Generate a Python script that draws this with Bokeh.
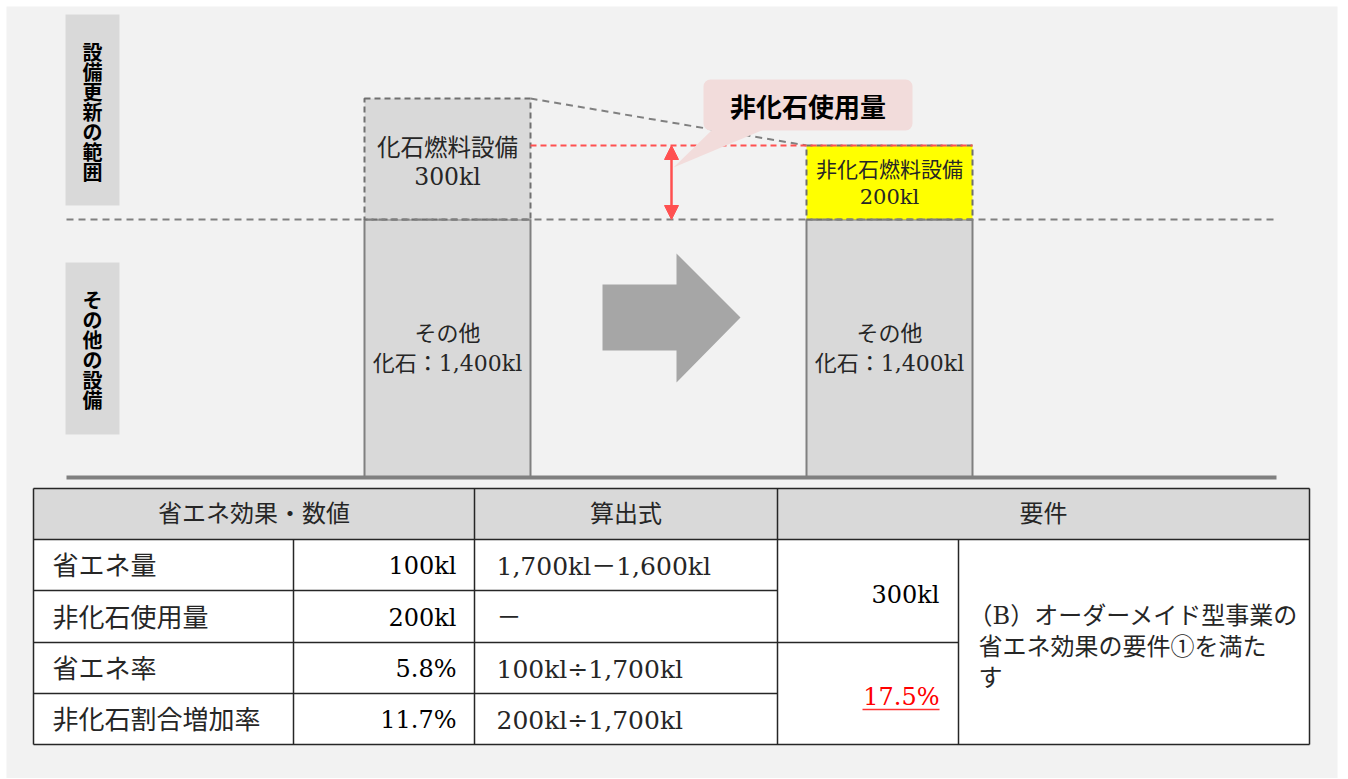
from bokeh.plotting import figure
from bokeh.models import Range1d, BoxAnnotation, Arrow, NormalHead, Label
from bokeh.core.properties import value
from bokeh.embed import file_html
from bokeh.resources import INLINE

# ---------------- data ----------------
side_labels = ["設備更新の範囲", "その他の設備"]
other_label = ["その他", "化石：1,400kl"]
fossil_label = ["化石燃料設備", "300kl"]
nonfossil_label = ["非化石燃料設備", "200kl"]
callout_label = "非化石使用量"
table_header = ["省エネ効果・数値", "算出式", "要件"]
row_labels = ["省エネ量", "非化石使用量", "省エネ率", "非化石割合増加率"]
row_values = ["100kl", "200kl", "5.8%", "11.7%"]
row_formulas = ["1,700kl－1,600kl", "－", "100kl÷1,700kl", "200kl÷1,700kl"]
req_values = ["300kl", "17.5%"]
req_text = ["（B）オーダーメイド型事業の", "省エネ効果の要件①を満た", "す"]

# ---------------- layout (page pixel frame) ----------------
W, H = 1340, 778
GRAY = "#808080"
RED = "#ff5050"
JP = value("Noto Sans CJK JP")
SER = value("DejaVu Serif, Noto Sans CJK JP")

p = figure(width=W, height=H, x_range=Range1d(0, W), y_range=Range1d(H, 0),
           output_backend="svg", toolbar_location=None, min_border=0,
           x_axis_location=None, y_axis_location=None)
p.grid.visible = False
p.outline_line_color = None
p.background_fill_color = "#ffffff"
p.border_fill_color = "#ffffff"

# panel backdrop
p.quad(left=[6], right=[1337], top=[6], bottom=[778], fill_color="#f2f2f2", line_color=None)

BASE_Y, MID_Y = 477, 219
bar_l = [364, 806]
bar_r = [530, 972]
fossil_top, nonfossil_top = 98, 145

# side label boxes with stacked vertical text
side_boxes = [(14, 205), (262, 434)]
p.quad(left=[65, 65], right=[119, 119], top=[b[0] for b in side_boxes],
       bottom=[b[1] for b in side_boxes], fill_color="#d9d9d9", line_color=None)
step = 20
for lab, (t, b) in zip(side_labels, side_boxes):
    n = len(lab)
    c = (t + b) / 2 + 1
    ys = [c - (n - 1) * step / 2 + i * step for i in range(n)]
    p.text(x=[92] * n, y=ys, text=list(lab), text_font=JP, text_font_style="bold",
           text_font_size="20px", text_align="center", text_baseline="middle", text_color="#000000")

# main bars (other fossil use)
p.quad(left=bar_l, right=bar_r, top=[MID_Y] * 2, bottom=[BASE_Y] * 2,
       fill_color="#d9d9d9", line_color=GRAY, line_width=2)
# fossil equipment (before) and non-fossil equipment (after)
p.quad(left=[bar_l[0]], right=[bar_r[0]], top=[fossil_top], bottom=[MID_Y],
       fill_color="#d9d9d9", line_color="#707070", line_width=2, line_dash="6 4")
p.quad(left=[bar_l[1]], right=[bar_r[1]], top=[nonfossil_top], bottom=[MID_Y],
       fill_color="#ffff00", line_color="#707070", line_width=2, line_dash="6 4")

# guide lines
p.line([66, 1276], [MID_Y, MID_Y], line_color=GRAY, line_width=2, line_dash="7 5")
p.line([66, 1276], [BASE_Y, BASE_Y], line_color=GRAY, line_width=4)
p.line([bar_r[0], bar_l[1]], [fossil_top, nonfossil_top], line_color=GRAY, line_width=2, line_dash="7 5")
p.line([bar_r[0], bar_r[1]], [nonfossil_top, nonfossil_top], line_color=RED, line_width=2, line_dash="6 4")

# red double arrow
p.add_layout(Arrow(start=NormalHead(size=14, fill_color=RED, line_color=RED),
                   end=NormalHead(size=14, fill_color=RED, line_color=RED),
                   x_start=671, y_start=MID_Y, x_end=671, y_end=nonfossil_top,
                   line_color=RED, line_width=2.5))

# big transition arrow
ax = [602, 676, 676, 740, 676, 676, 602]
ay = [284, 284, 253, 317, 382, 350, 350]
p.patch(ax, ay, fill_color="#a6a6a6", line_color=None)

# callout
p.patch([713, 766, 673], [128, 128, 167], fill_color="#f2dcdb", line_color=None)
p.add_layout(BoxAnnotation(left=703, right=912, top=79, bottom=130, fill_color="#f2dcdb",
                           fill_alpha=1, line_color=None, border_radius=7))
p.add_layout(Label(x=807.5, y=105, text=callout_label, text_font="Noto Sans CJK JP",
                   text_font_style="bold", text_font_size="26px", text_align="center",
                   text_baseline="middle", text_color="#000000"))

# bar labels
cx = [(l + r) / 2 for l, r in zip(bar_l, bar_r)]
for x in cx:
    p.text(x=[x, x], y=[333, 363], text=other_label, text_font=SER, text_font_size="22px",
           text_align="center", text_baseline="middle", text_color="#262626")
p.text(x=[cx[0], cx[0]], y=[147, 176], text=fossil_label, text_font=SER, text_font_size="23.5px",
       text_align="center", text_baseline="middle", text_color="#262626")
p.text(x=[cx[1], cx[1]], y=[169, 196], text=nonfossil_label, text_font=SER, text_font_size="21px",
       text_align="center", text_baseline="middle", text_color="#262626")

# ---------------- table ----------------
cols = [33, 293, 474, 777, 958, 1309]
rows = [488, 539, 590, 642, 693, 744]
p.quad(left=[cols[0]], right=[cols[-1]], top=[rows[0]], bottom=[rows[1]], fill_color="#d9d9d9", line_color=None)
p.quad(left=[cols[0]], right=[cols[-1]], top=[rows[1]], bottom=[rows[-1]], fill_color="#ffffff", line_color=None)
lx = [[cols[0], cols[-1]], [cols[0], cols[-1]], [cols[0], cols[-1]],
      [cols[0], cols[3]], [cols[0], cols[4]], [cols[0], cols[3]],
      [cols[0], cols[0]], [cols[-1], cols[-1]],
      [cols[1], cols[1]], [cols[2], cols[2]], [cols[3], cols[3]], [cols[4], cols[4]]]
ly = [[rows[0], rows[0]], [rows[-1], rows[-1]], [rows[1], rows[1]],
      [rows[2], rows[2]], [rows[3], rows[3]], [rows[4], rows[4]],
      [rows[0], rows[-1]], [rows[0], rows[-1]],
      [rows[1], rows[-1]], [rows[0], rows[-1]], [rows[0], rows[-1]], [rows[1], rows[-1]]]
p.multi_line(lx, ly, line_color="#262626", line_width=1.5)

hy = (rows[0] + rows[1]) / 2
hx = [(cols[0] + cols[2]) / 2, (cols[2] + cols[3]) / 2, (cols[3] + cols[5]) / 2]
p.text(x=hx, y=[hy] * 3, text=table_header, text_font=SER, text_font_size="24px",
       text_align="center", text_baseline="middle", text_color="#262626")

ry = [(rows[i + 1] + rows[i + 2]) / 2 + 1 for i in range(4)]
p.text(x=[52] * 4, y=ry, text=row_labels, text_font=SER, text_font_size="26px",
       text_align="left", text_baseline="middle", text_color="#262626")
p.text(x=[456] * 4, y=ry, text=row_values, text_font=SER, text_font_size="24px",
       text_align="right", text_baseline="middle", text_color="#000000")
p.text(x=[496] * 4, y=ry, text=row_formulas, text_font=SER, text_font_size="25px",
       text_align="left", text_baseline="middle", text_color="#262626")

p.text(x=[939], y=[594], text=[req_values[0]], text_font=SER, text_font_size="24px",
       text_align="right", text_baseline="middle", text_color="#000000")
p.text(x=[939], y=[696], text=[req_values[1]], text_font=SER, text_font_size="24px",
       text_align="right", text_baseline="middle", text_color="#ff0000")
p.line([862, 939], [709, 709], line_color="#ff3030", line_width=1.5)

p.text(x=[968, 978, 978], y=[615, 646, 677], text=req_text, text_font=SER, text_font_size="24px",
       text_align="left", text_baseline="middle", text_color="#262626")

open("out.html", "w").write(file_html(p, INLINE))
